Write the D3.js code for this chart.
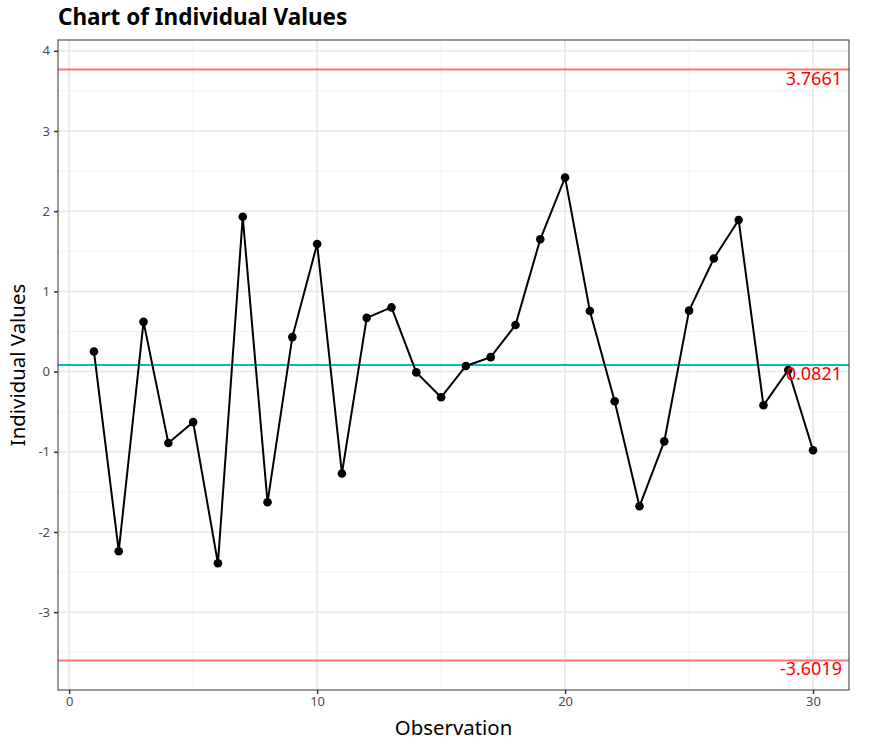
<!DOCTYPE html>
<html>
<head>
<meta charset="utf-8">
<script src="https://cdn.jsdelivr.net/npm/d3@7"></script>
<style>
  body { margin: 0; background: #fff; }
  text { font-family: "Noto Sans", "Open Sans", sans-serif; }
</style>
</head>
<body>
<div id="chart"></div>
<script>
// observation numbers and individual values
const observations = d3.range(1, 31);
const values = [
  0.25, -2.24, 0.62, -0.89, -0.63, -2.39, 1.93, -1.63, 0.43, 1.59,
  -1.27, 0.67, 0.80, -0.01, -0.32, 0.07, 0.18, 0.58, 1.65, 2.42,
  0.755, -0.37, -1.68, -0.87, 0.76, 1.41, 1.89, -0.42, 0.02, -0.98
];
const limitNames = ['UCL', 'CL', 'LCL'];
const limitValues = [3.7661, 0.0821, -3.6019];
const xTicks = [0, 10, 20, 30];
const yTicks = [-3, -2, -1, 0, 1, 2, 3, 4];

const width = 875, height = 746;
const margin = { top: 40, right: 26, bottom: 56, left: 58 };
const pw = width - margin.left - margin.right;
const ph = height - margin.top - margin.bottom;

const svg = d3.select('#chart')
  .append('svg')
  .attr('width', width)
  .attr('height', height);

// ggplot-like 5% expansion
const xr = [1, 30], xe = (xr[1] - xr[0]) * 0.05;
const yr = [limitValues[2], limitValues[0]], ye = (yr[1] - yr[0]) * 0.05;

const x = d3.scaleLinear()
  .domain([xr[0] - xe, xr[1] + xe])
  .range([0, pw]);
const y = d3.scaleLinear()
  .domain([yr[0] - ye, yr[1] + ye])
  .range([ph, 0]);

const g = svg.append('g')
  .attr('transform', `translate(${margin.left},${margin.top})`);

// grid
const xMinor = [5, 15, 25];
const yMinor = d3.range(-3.5, 4.01, 1);
g.selectAll('.ygm').data(yMinor).enter().append('line')
  .attr('x1', 0).attr('x2', pw)
  .attr('y1', d => y(d)).attr('y2', d => y(d))
  .attr('stroke', '#f2f2f2').attr('stroke-width', 1);
g.selectAll('.xgm').data(xMinor).enter().append('line')
  .attr('y1', 0).attr('y2', ph)
  .attr('x1', d => x(d)).attr('x2', d => x(d))
  .attr('stroke', '#f2f2f2').attr('stroke-width', 1);
g.selectAll('.yg').data(yTicks).enter().append('line')
  .attr('x1', 0).attr('x2', pw)
  .attr('y1', d => y(d)).attr('y2', d => y(d))
  .attr('stroke', '#ebebeb').attr('stroke-width', 2);
g.selectAll('.xg').data(xTicks).enter().append('line')
  .attr('y1', 0).attr('y2', ph)
  .attr('x1', d => x(d)).attr('x2', d => x(d))
  .attr('stroke', '#ebebeb').attr('stroke-width', 2);

// control limit lines
const limitColor = ['#f8766d', '#00bfc4', '#f8766d'];
g.selectAll('.lim').data(limitValues).enter().append('line')
  .attr('x1', 0).attr('x2', pw)
  .attr('y1', d => y(d)).attr('y2', d => y(d))
  .attr('stroke', (d, i) => limitColor[i])
  .attr('stroke-width', 2);

// series
const line = d3.line()
  .x((d, i) => x(observations[i]))
  .y(d => y(d));
g.append('path')
  .datum(values)
  .attr('d', line)
  .attr('fill', 'none')
  .attr('stroke', '#000')
  .attr('stroke-width', 2);
g.selectAll('.pt').data(values).enter().append('circle')
  .attr('cx', (d, i) => x(observations[i]))
  .attr('cy', d => y(d))
  .attr('r', 4.3)
  .attr('fill', '#000');

// limit labels
g.selectAll('.limlab').data(limitValues).enter().append('text')
  .attr('x', pw - 7)
  .attr('y', d => y(d) + 15)
  .attr('text-anchor', 'end')
  .attr('fill', '#ff0000')
  .attr('font-size', 18)
  .text(d => d.toFixed(4));

// panel border
g.append('rect')
  .attr('width', pw).attr('height', ph)
  .attr('fill', 'none')
  .attr('stroke', '#333333')
  .attr('stroke-width', 1);

// axes
const fmt = d => String(d);
const xAxis = g.append('g')
  .attr('transform', `translate(0,${ph})`)
  .call(d3.axisBottom(x).tickValues(xTicks).tickFormat(fmt).tickSize(4).tickPadding(3));
const yAxis = g.append('g')
  .call(d3.axisLeft(y).tickValues(yTicks).tickFormat(fmt).tickSize(4).tickPadding(4));
[xAxis, yAxis].forEach(a => {
  a.select('.domain').remove();
  a.selectAll('line').attr('stroke', '#333333').attr('stroke-width', 1.5);
  a.selectAll('text')
    .attr('fill', '#4d4d4d')
    .attr('font-size', 13)
    .style('font-family', '"Noto Sans", "Open Sans", sans-serif');
});

// titles
svg.append('text')
  .attr('x', margin.left)
  .attr('y', 25)
  .attr('font-size', 22.5)
  .attr('font-weight', 'bold')
  .attr('fill', '#000')
  .text('Chart of Individual Values');
svg.append('text')
  .attr('x', margin.left + pw / 2)
  .attr('y', 735)
  .attr('text-anchor', 'middle')
  .attr('font-size', 20.4)
  .attr('fill', '#000')
  .text('Observation');
svg.append('text')
  .attr('transform', `translate(25,${margin.top + ph / 2}) rotate(-90)`)
  .attr('text-anchor', 'middle')
  .attr('font-size', 20.4)
  .attr('fill', '#000')
  .text('Individual Values');
</script>
</body>
</html>
